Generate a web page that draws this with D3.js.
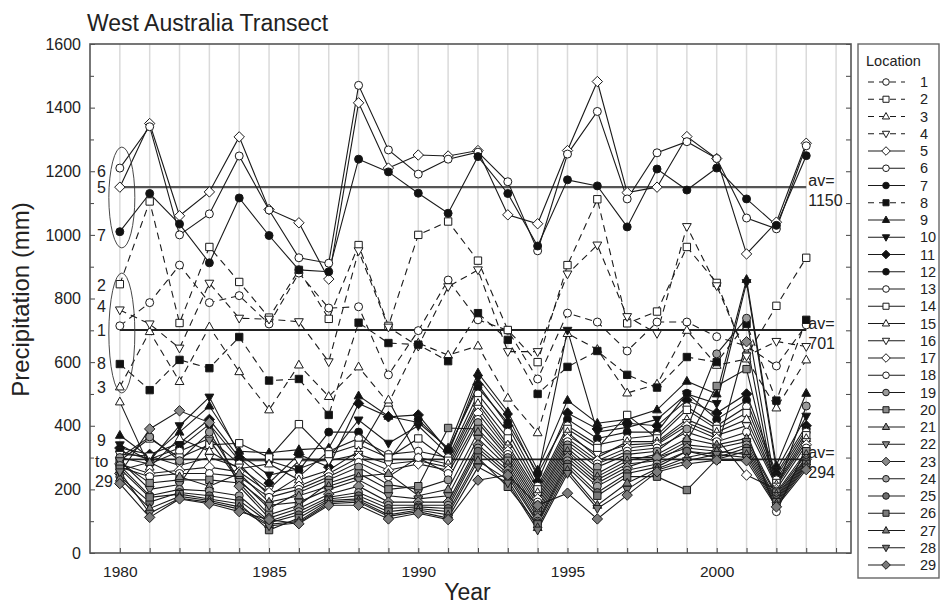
<!DOCTYPE html>
<html>
<head>
<meta charset="utf-8">
<script src="https://cdn.jsdelivr.net/npm/d3@7"></script>
<style>
  body { margin: 0; background: #fff; }
  svg text { font-family: "Liberation Sans", Arial, Helvetica, sans-serif; fill: #222; }
</style>
</head>
<body>
<svg id="chart" width="943" height="606"></svg>
<script>
// Annual precipitation (mm) along the West Australia transect, 1980-2003
const years = [1980,1981,1982,1983,1984,1985,1986,1987,1988,1989,1990,1991,
               1992,1993,1994,1995,1996,1997,1998,1999,2000,2001,2002,2003];

// wettest coastal group
const loc05 = [1150,1350,1060,1135,1308,1080,1038,861,1415,1210,1251,1248,1265,1063,1035,1265,1482,1133,1150,1309,1240,940,1040,1288];
const loc06 = [1210,1340,1000,1066,1248,1078,928,911,1470,1267,1191,1238,1260,1167,950,1254,1388,1113,1258,1293,1240,1053,1019,1280];
const loc07 = [1010,1130,1034,912,1116,998,890,884,1238,1198,1131,1068,1246,1130,965,1173,1154,1025,1207,1141,1210,1113,1030,1249];

// intermediate group
const loc01 = [714,787,905,787,809,720,880,770,774,560,699,858,733,700,547,754,726,635,726,726,680,650,588,717];
const loc02 = [845,1105,723,962,852,740,890,736,968,714,1000,1042,919,701,600,905,1112,722,759,962,849,620,777,928];
const loc03 = [522,696,539,711,570,450,591,492,585,471,660,622,651,487,378,690,640,503,531,700,590,610,456,607];
const loc04 = [764,720,644,848,738,735,727,601,950,710,650,837,890,633,633,877,968,743,690,1026,840,619,665,649];
const loc08 = [594,512,607,581,679,542,547,434,724,660,655,603,754,670,500,585,635,560,520,616,600,720,479,733];

// dry inland group
const loc09 = [370,300,380,462,320,315,325,330,494,430,410,330,566,444,261,480,408,420,450,540,500,860,275,502];
const loc10 = [340,290,400,490,310,245,265,300,418,345,400,310,550,430,240,700,380,395,420,500,470,850,260,430];
const loc11 = [330,310,345,420,300,220,310,270,470,428,434,320,530,400,225,440,390,408,400,480,440,500,250,400];
const loc12 = [320,295,330,405,290,290,260,380,380,290,420,325,520,410,250,420,360,380,380,502,420,480,240,390];
const loc13 = [300,280,320,360,280,180,240,320,360,310,320,300,500,380,210,400,340,360,370,460,400,460,230,380];
const loc14 = [290,360,300,340,345,300,405,310,340,300,360,290,480,360,200,390,330,434,360,450,390,440,220,370];
const loc15 = [475,270,360,320,265,280,230,260,320,481,300,280,470,340,190,380,300,350,350,420,380,420,215,360];
const loc16 = [310,305,275,300,270,200,290,290,310,280,290,270,455,330,180,370,310,340,345,410,370,400,210,350];
const loc17 = [280,250,260,270,255,190,210,250,300,260,280,260,440,320,170,360,290,330,340,400,360,245,200,340];
const loc18 = [270,240,250,250,240,175,200,240,285,240,300,250,420,310,160,350,280,320,330,380,350,380,130,330];
const loc19 = [300,365,290,380,230,140,190,230,270,215,200,230,410,300,150,340,270,310,320,390,626,738,195,462];
const loc20 = [285,220,230,230,220,120,150,220,250,200,210,393,390,290,140,330,250,300,300,350,525,578,190,320];
const loc21 = [260,285,240,210,250,160,180,210,240,250,180,200,380,280,130,320,240,290,310,360,340,360,185,310];
const loc22 = [290,200,215,355,225,150,160,200,230,180,170,180,360,270,120,310,230,280,290,340,330,350,180,300];
const loc23 = [250,390,447,410,210,110,140,185,210,160,160,160,340,260,110,300,220,270,300,330,320,664,175,295];
const loc24 = [275,180,200,195,180,100,130,175,190,150,150,150,330,250,100,290,210,260,280,320,310,340,170,290];
const loc25 = [240,160,190,180,165,95,120,170,180,140,145,140,320,240,95,280,190,250,270,320,300,330,165,285];
const loc26 = [265,175,185,170,155,72,110,165,170,130,140,130,300,208,90,270,180,240,240,198,295,320,160,280];
const loc27 = [235,140,178,165,145,90,100,160,165,120,135,120,290,230,80,260,150,220,265,300,320,310,155,275];
const loc28 = [255,125,172,160,138,85,95,155,160,115,130,110,270,220,72,250,140,200,260,290,310,300,150,270];
const loc29 = [218,112,170,155,130,105,92,150,150,107,125,105,229,245,150,188,107,182,255,280,292,290,145,262];

// group means
const averages = [1150, 701, 294];

const yTicks = [0,200,400,600,800,1000,1200,1400,1600];
const yMinor = [100,300,500,700,900,1100,1300,1500];
const xTickLabels = [1980,1985,1990,1995,2000];

// marker shape / fill / dash for each location
const locations = [
  {id:1,  v:loc01, shape:"circle",  fill:"open",  dash:true},
  {id:2,  v:loc02, shape:"square",  fill:"open",  dash:true},
  {id:3,  v:loc03, shape:"triUp",   fill:"open",  dash:true},
  {id:4,  v:loc04, shape:"triDown", fill:"open",  dash:true},
  {id:5,  v:loc05, shape:"diamond", fill:"open",  dash:false},
  {id:6,  v:loc06, shape:"circle",  fill:"open",  dash:false},
  {id:7,  v:loc07, shape:"circle",  fill:"black", dash:false},
  {id:8,  v:loc08, shape:"square",  fill:"black", dash:true},
  {id:9,  v:loc09, shape:"triUp",   fill:"black", dash:false},
  {id:10, v:loc10, shape:"triDown", fill:"black", dash:false},
  {id:11, v:loc11, shape:"diamond", fill:"black", dash:false},
  {id:12, v:loc12, shape:"circle",  fill:"black", dash:false},
  {id:13, v:loc13, shape:"circle",  fill:"open",  dash:false},
  {id:14, v:loc14, shape:"square",  fill:"open",  dash:false},
  {id:15, v:loc15, shape:"triUp",   fill:"open",  dash:false},
  {id:16, v:loc16, shape:"triDown", fill:"open",  dash:false},
  {id:17, v:loc17, shape:"diamond", fill:"open",  dash:false},
  {id:18, v:loc18, shape:"circle",  fill:"open",  dash:false},
  {id:19, v:loc19, shape:"circle",  fill:"#9a9a9a", dash:false},
  {id:20, v:loc20, shape:"square",  fill:"#8a8a8a", dash:false},
  {id:21, v:loc21, shape:"triUp",   fill:"#8a8a8a", dash:false},
  {id:22, v:loc22, shape:"triDown", fill:"#8a8a8a", dash:false},
  {id:23, v:loc23, shape:"diamond", fill:"#8a8a8a", dash:false},
  {id:24, v:loc24, shape:"circle",  fill:"#a0a0a0", dash:false},
  {id:25, v:loc25, shape:"circle",  fill:"#6e6e6e", dash:false},
  {id:26, v:loc26, shape:"square",  fill:"#7a7a7a", dash:false},
  {id:27, v:loc27, shape:"triUp",   fill:"#7a7a7a", dash:false},
  {id:28, v:loc28, shape:"triDown", fill:"#7a7a7a", dash:false},
  {id:29, v:loc29, shape:"diamond", fill:"#7a7a7a", dash:false}
];

const svg = d3.select("#chart");
const plot = {left: 90, right: 851, top: 44, bottom: 553};

const x = d3.scaleLinear().domain([1979, 2004.5]).range([plot.left, plot.right]);
const y = d3.scaleLinear().domain([0, 1600]).range([plot.bottom, plot.top]);

function markerPath(shape, r) {
  switch (shape) {
    case "circle":  return `M${r},0A${r},${r},0,1,1,${-r},0A${r},${r},0,1,1,${r},0Z`;
    case "square":  { const s = r * 0.92; return `M${-s},${-s}H${s}V${s}H${-s}Z`; }
    case "triUp":   return `M0,${-r*1.2}L${r*1.1},${r*0.75}L${-r*1.1},${r*0.75}Z`;
    case "triDown": return `M0,${r*1.2}L${r*1.1},${-r*0.75}L${-r*1.1},${-r*0.75}Z`;
    case "diamond": return `M0,${-r*1.3}L${r*1.3},0L0,${r*1.3}L${-r*1.3},0Z`;
  }
}
const fillOf = f => f === "open" ? "#fff" : f === "black" ? "#111" : f;

// vertical year grid
svg.append("g").selectAll("line")
  .data(d3.range(1980, 2005))
  .join("line")
  .attr("x1", d => x(d)).attr("x2", d => x(d))
  .attr("y1", plot.top).attr("y2", plot.bottom)
  .attr("stroke", "#dadada").attr("stroke-width", 1.5);

// axes
const gLeft = svg.append("g").attr("transform", `translate(${plot.left},0)`)
  .call(d3.axisLeft(y).tickValues(yTicks).tickSize(-5).tickPadding(9).tickFormat(d3.format("d")));
gLeft.select(".domain").remove();
gLeft.selectAll("text").attr("font-size", 16).attr("fill", "#222");
gLeft.selectAll("line").attr("stroke", "#444");

const gLeftMinor = svg.append("g").attr("transform", `translate(${plot.left},0)`)
  .call(d3.axisLeft(y).tickValues(yMinor).tickSize(-4).tickFormat(""));
gLeftMinor.select(".domain").remove();
gLeftMinor.selectAll("line").attr("stroke", "#444");

const gRight = svg.append("g").attr("transform", `translate(${plot.right},0)`)
  .call(d3.axisRight(y).tickValues(yTicks.concat(yMinor)).tickSize(-5).tickFormat(""));
gRight.select(".domain").remove();
gRight.selectAll("line").attr("stroke", "#444");

const gBottom = svg.append("g").attr("transform", `translate(0,${plot.bottom})`)
  .call(d3.axisBottom(x).tickValues(d3.range(1980, 2005)).tickSize(-5)
    .tickFormat(d => xTickLabels.includes(d) ? d : "").tickPadding(13));
gBottom.select(".domain").remove();
gBottom.selectAll("text").attr("font-size", 15.5).attr("fill", "#222");
gBottom.selectAll("line").attr("stroke", "#444");

// plot frame
svg.append("rect")
  .attr("x", plot.left).attr("y", plot.top)
  .attr("width", plot.right - plot.left).attr("height", plot.bottom - plot.top)
  .attr("fill", "none").attr("stroke", "#555").attr("stroke-width", 1.6);

// group mean lines
const avLabel = ["1150", "701", "294"];
averages.forEach((a, i) => {
  svg.append("line")
    .attr("x1", x(1980)).attr("x2", x(2003))
    .attr("y1", y(a)).attr("y2", y(a))
    .attr("stroke", i === 0 ? "#555" : "#222").attr("stroke-width", i === 0 ? 2.4 : 1.8);
});

// location series
const line = d3.line().x((d, i) => x(years[i])).y(d => y(d));
const series = svg.append("g");
locations.forEach(loc => {
  series.append("path")
    .datum(loc.v)
    .attr("d", line)
    .attr("fill", "none")
    .attr("stroke", "#1a1a1a")
    .attr("stroke-width", 1.1)
    .attr("stroke-dasharray", loc.dash ? "7,5" : null);
});
locations.forEach(loc => {
  series.append("g").selectAll("path")
    .data(loc.v)
    .join("path")
    .attr("transform", (d, i) => `translate(${x(years[i])},${y(d)})`)
    .attr("d", markerPath(loc.shape, 4))
    .attr("fill", fillOf(loc.fill))
    .attr("stroke", "#1a1a1a")
    .attr("stroke-width", 1);
});

// mean labels
averages.forEach((a, i) => {
  svg.append("text").attr("x", x(2003) + 2).attr("y", y(a) - 1)
    .attr("font-size", 16).text("av=");
  svg.append("text").attr("x", x(2003) + 2).attr("y", y(a) + 19)
    .attr("font-size", 16).text(avLabel[i]);
});

// station group callouts at the 1980 column
const callouts = [
  {t: "6", v: 1200}, {t: "5", v: 1150}, {t: "7", v: 1000},
  {t: "2", v: 843}, {t: "4", v: 775}, {t: "1", v: 701},
  {t: "8", v: 597}, {t: "3", v: 522},
  {t: "9", v: 355}, {t: "to", v: 289}, {t: "29", v: 226}
];
svg.append("g").selectAll("text")
  .data(callouts)
  .join("text")
  .attr("x", d => d.t.length > 1 ? 95 : 97)
  .attr("y", d => y(d.v))
  .attr("dy", "0.36em")
  .attr("font-size", 16)
  .text(d => d.t);

const rings = [{top: 1276, bottom: 959}, {top: 880, bottom: 503}];
svg.append("g").selectAll("ellipse")
  .data(rings)
  .join("ellipse")
  .attr("cx", x(1980) + 2)
  .attr("cy", d => (y(d.top) + y(d.bottom)) / 2)
  .attr("rx", 13)
  .attr("ry", d => (y(d.bottom) - y(d.top)) / 2)
  .attr("fill", "none").attr("stroke", "#333").attr("stroke-width", 0.9);

// titles
svg.append("text").attr("x", 87).attr("y", 31).attr("font-size", 23).text("West Australia Transect");
svg.append("text").attr("transform", `translate(29,${(plot.top + plot.bottom) / 2 + 1}) rotate(-90)`)
  .attr("text-anchor", "middle").attr("font-size", 24).text("Precipitation (mm)");
svg.append("text").attr("x", (plot.left + plot.right) / 2 - 3).attr("y", 600)
  .attr("text-anchor", "middle").attr("font-size", 23).text("Year");

// legend
const lg = svg.append("g");
lg.append("rect").attr("x", 858).attr("y", 44).attr("width", 81).attr("height", 534)
  .attr("fill", "#fff").attr("stroke", "#666").attr("stroke-width", 1.4);
lg.append("text").attr("x", 866).attr("y", 66).attr("font-size", 14.5).text("Location");
const rowY = i => 82 + i * 17.25;
const rows = lg.selectAll("g.row").data(locations).join("g")
  .attr("class", "row")
  .attr("transform", (d, i) => `translate(0,${rowY(i)})`);
rows.append("line")
  .attr("x1", 868).attr("x2", 905).attr("y1", 0).attr("y2", 0)
  .attr("stroke", "#1a1a1a").attr("stroke-width", 1.1)
  .attr("stroke-dasharray", d => d.dash ? "6,5" : null);
rows.append("path")
  .attr("transform", "translate(886,0)")
  .attr("d", d => markerPath(d.shape, 3.3))
  .attr("fill", d => fillOf(d.fill)).attr("stroke", "#1a1a1a").attr("stroke-width", 1);
rows.append("text")
  .attr("x", 920).attr("y", 0).attr("dy", "0.36em")
  .attr("font-size", 14.5).text(d => d.id);
</script>
</body>
</html>
